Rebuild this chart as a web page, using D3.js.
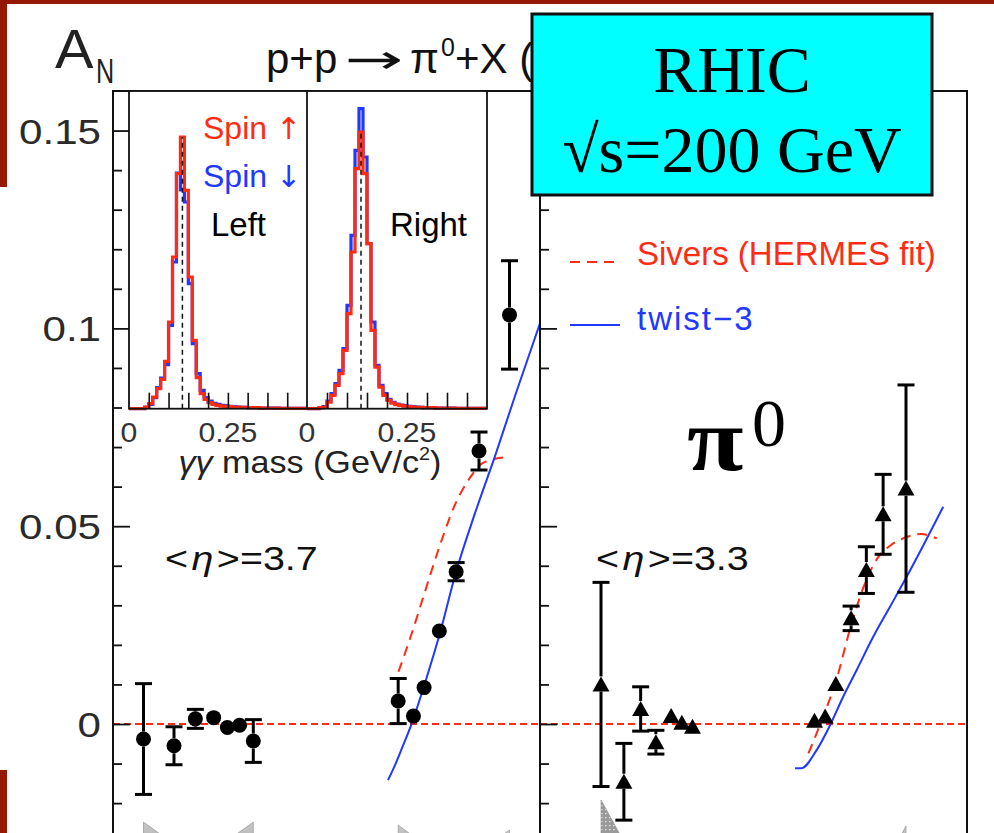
<!DOCTYPE html>
<html>
<head>
<meta charset="utf-8">
<title>Single-spin asymmetry A_N for p+p → π0 + X</title>
<script src="https://cdn.jsdelivr.net/npm/d3@7/dist/d3.min.js"></script>
<style>
  html, body { margin: 0; padding: 0; background: #fff; }
  svg { display: block; }
</style>
</head>
<body>
<svg id="chart" width="994" height="833"></svg>
<script>
// ---------------- data ----------------
// A_N axis
const yMajorTicks  = [0, 0.05, 0.1, 0.15];
const yMajorLabels = ["0", "0.05", "0.1", "0.15"];
const yMinorTicks  = [-0.03, -0.02, -0.01, 0.01, 0.02, 0.03, 0.04, 0.06, 0.07, 0.08, 0.09, 0.11, 0.12, 0.13, 0.14];

// <eta> = 3.7 : x_F, A_N and statistical error
const eta37XF  = [-0.60, -0.50, -0.43, -0.37, -0.325, -0.285, -0.24, 0.235, 0.285, 0.32, 0.37, 0.425, 0.50, 0.60];
const eta37AN  = [-0.0038, -0.0055, 0.0013, 0.0016, -0.0009, -0.0003, -0.0043, 0.0058, 0.0020, 0.0092, 0.0235, 0.0385, 0.0690, 0.1034];
const eta37Err = [0.0140, 0.0048, 0.0024, 0.0012, 0.0010, 0.0010, 0.0054, 0.0057, 0.0010, 0.0010, 0.0012, 0.0023, 0.0048, 0.0137];

// <eta> = 3.3
const eta33XF  = [-0.50, -0.425, -0.37, -0.32, -0.27, -0.235, -0.20, 0.20, 0.235, 0.27, 0.32, 0.37, 0.425, 0.50];
const eta33AN  = [0.0100, -0.0146, 0.0038, -0.0046, 0.0020, 0.0003, -0.0007, 0.0008, 0.0019, 0.0101, 0.0267, 0.0389, 0.0530, 0.0595];
const eta33Err = [0.0258, 0.0097, 0.0056, 0.0030, 0.0010, 0.0010, 0.0010, 0.0010, 0.0010, 0.0010, 0.0031, 0.0059, 0.0101, 0.0262];

// model calculations
const sivers37XF = [0.236, 0.280, 0.323, 0.372, 0.421, 0.470, 0.513, 0.595];
const sivers37AN = [0.0132, 0.0230, 0.0335, 0.0452, 0.0554, 0.0622, 0.0660, 0.0675];
const twist37XF  = [0.2016, 0.2246, 0.2475, 0.2803, 0.3197, 0.3721, 0.4246, 0.4869, 0.5525, 0.6180, 0.70];
const twist37AN  = [-0.0142, -0.0104, -0.0061, 0.0003, 0.0096, 0.0230, 0.0384, 0.0533, 0.0677, 0.0829, 0.1013];
const sivers33XF = [0.180, 0.224, 0.273, 0.320, 0.373, 0.410, 0.450, 0.500, 0.550, 0.601];
const sivers33AN = [-0.0074, 0.0010, 0.0115, 0.0250, 0.0370, 0.0423, 0.0452, 0.0472, 0.0480, 0.0469];
const twist33XF  = [0.136, 0.156, 0.207, 0.251, 0.294, 0.338, 0.393, 0.448, 0.502, 0.557, 0.622];
const twist33AN  = [-0.0112, -0.0112, -0.0066, -0.0003, 0.0069, 0.0136, 0.0221, 0.0297, 0.0372, 0.0452, 0.0549];

// shaded bands rising from below the shown A_N range
const bandPanel = [0, 0, 0, 0, 1, 1];
const bandXF    = [-0.60, -0.24, 0.235, 0.60, -0.50, 0.50];
const bandTip   = [-0.0248, -0.0248, -0.0256, -0.0268, -0.0192, -0.0258];
const bandSide  = [1, -1, 1, -1, 1, -1];

// two-photon invariant mass spectra (10 MeV bins from 0 to 0.45 GeV/c^2)
const massTicks      = [0.05, 0.1, 0.15, 0.2, 0.25, 0.3, 0.35, 0.4];
const massTickLabels = [[0, "0"], [0.25, "0.25"]];
const histLeftUp    = [0,0,0,0,0.5,1.5,3.5,6,8.8,14.2,26,45.5,70.5,81.5,65.5,39.5,20.5,9.3,4.5,2.8,1.8,1.3,1.0,0.8,0.7,0.6,0.5,0.5,0.4,0.4,0.3,0.3,0.3,0.2,0.2,0.2,0.2,0.2,0.1,0.1,0.1,0.1,0.1,0.1,0.1];
const histLeftDown  = [0,0,0,0,0.4,1.3,3.3,6.3,9.2,13.2,25,44,70.7,65.6,62,37.5,19.5,10.5,5.5,3.3,2.3,1.6,1.3,1.0,0.9,0.7,0.6,0.5,0.4,0.4,0.3,0.3,0.3,0.2,0.2,0.2,0.2,0.2,0.1,0.1,0.1,0.1,0.1,0.1,0.1];
const histRightUp   = [0,0,0,0.3,0.5,2.0,4.0,7.0,10.5,17.5,28.5,47,72,83,70.5,49.5,23.5,12.5,6.5,4.0,2.5,1.7,1.2,1.0,0.8,0.6,0.5,0.4,0.4,0.3,0.3,0.3,0.2,0.2,0.2,0.2,0.2,0.1,0.1,0.1,0.1,0.1,0.1,0.1,0.1];
const histRightDown = [0,0,0,0.3,0.6,2.3,4.5,7.5,11.5,18,31,52,77.5,90,75.5,49.5,26,13,7,4.5,2.8,1.9,1.4,1.1,0.9,0.7,0.6,0.5,0.4,0.3,0.3,0.3,0.2,0.2,0.2,0.2,0.2,0.1,0.1,0.1,0.1,0.1,0.1,0.1,0.1];
const pi0Mass = 0.135;

// ---------------- drawing ----------------
const svg = d3.select("#chart");
const RED = "#ff2b12", BLUE = "#2038ff", INK = "#111";
const SANS = '"Liberation Sans", Arial, Helvetica, sans-serif';
const SERIF = '"Liberation Serif", "Times New Roman", serif';
const DEJAVU = '"DejaVu Sans", sans-serif';
const defs = svg.append("defs");

// text helper: font set through style so it always wins
function txt(parent, x, yy, size, fill, family) {
  return parent.append("text").attr("x", x).attr("y", yy)
    .style("font-family", family || SANS).style("font-size", size + "px").attr("fill", fill);
}

// slide border
const BORDER = "#951900";
svg.append("rect").attr("x", 0).attr("y", 0).attr("width", 994).attr("height", 4).attr("fill", BORDER);
svg.append("rect").attr("x", 0).attr("y", 0).attr("width", 7).attr("height", 187).attr("fill", BORDER);
svg.append("rect").attr("x", 0).attr("y", 770).attr("width", 7).attr("height", 63).attr("fill", BORDER);

const plotTop = 91, plotBottom = 882.25;
const y = d3.scaleLinear().domain([-0.04, 0.16]).range([plotBottom, plotTop]);

const panels = [
  { x0: 113, x1: 540, xF: eta37XF, AN: eta37AN, err: eta37Err, marker: "circle",
    sx: sivers37XF, sy: sivers37AN, tx: twist37XF, ty: twist37AN, eta: "3.7", etaX: 165, bandSlope: 1.4 },
  { x0: 540, x1: 967, xF: eta33XF, AN: eta33AN, err: eta33Err, marker: "triangle",
    sx: sivers33XF, sy: sivers33AN, tx: twist33XF, ty: twist33AN, eta: "3.3", etaX: 596, bandSlope: 0.55 }
];

// dotted fill for the band in the second panel
const pat = defs.append("pattern").attr("id", "dots").attr("width", 4).attr("height", 4)
  .attr("patternUnits", "userSpaceOnUse");
pat.append("rect").attr("width", 4).attr("height", 4).attr("fill", "#9a9a9a");
pat.append("rect").attr("x", 1).attr("y", 1).attr("width", 1.5).attr("height", 1.2).attr("fill", "#e8e8e8");

const grad = defs.append("linearGradient").attr("id", "bandGrad").attr("x1", 0).attr("y1", 0).attr("x2", 0).attr("y2", 1);
grad.append("stop").attr("offset", "0%").attr("stop-color", "#c8c8c8");
grad.append("stop").attr("offset", "100%").attr("stop-color", "#8f8f8f");

panels.forEach((p, pi) => {
  const x = d3.scaleLinear().domain([-0.7, 0.7]).range([p.x0, p.x1]);
  p.x = x;

  defs.append("clipPath").attr("id", "clip" + pi)
    .append("rect").attr("x", p.x0).attr("y", plotTop).attr("width", p.x1 - p.x0).attr("height", plotBottom - plotTop);

  const g = svg.append("g").attr("clip-path", `url(#clip${pi})`);

  // bands
  bandXF.forEach((bx, i) => {
    if (bandPanel[i] !== pi) return;
    const px = x(bx), ty = y(bandTip[i]);
    const w = (plotBottom - ty) * p.bandSlope * bandSide[i];
    g.append("path")
      .attr("d", `M${px},${ty} L${px},${plotBottom} L${px + w},${plotBottom} Z`)
      .attr("fill", pi === 1 && bandSide[i] === 1 ? "url(#dots)" : "url(#bandGrad)")
      .attr("stroke", "#8a8a8a").attr("stroke-width", 0.6);
  });

  // zero line
  g.append("line").attr("x1", p.x0).attr("x2", p.x1).attr("y1", y(0)).attr("y2", y(0))
    .attr("stroke", RED).attr("stroke-width", 1.8).attr("stroke-dasharray", "7,4");

  const line = d3.line().x(d => x(d[0])).y(d => y(d[1])).curve(d3.curveMonotoneX);
  g.append("path").attr("d", line(p.sx.map((v, i) => [v, p.sy[i]])))
    .attr("fill", "none").attr("stroke", RED).attr("stroke-width", 2).attr("stroke-dasharray", "10,7");
  g.append("path").attr("d", line(p.tx.map((v, i) => [v, p.ty[i]])))
    .attr("fill", "none").attr("stroke", BLUE).attr("stroke-width", 2);

  // data points with error bars
  const r = 7.5;
  const up = p.marker === "circle" ? r : 8, dn = p.marker === "circle" ? r : 7;
  p.xF.forEach((xf, i) => {
    const cx = x(xf), cy = y(p.AN[i]);
    const top = y(p.AN[i] + p.err[i]), bot = y(p.AN[i] - p.err[i]);
    const bar = g.append("g").attr("stroke", "#000").attr("stroke-width", 3);
    if (cy - top > up) {
      bar.append("line").attr("x1", cx).attr("x2", cx).attr("y1", cy - up).attr("y2", top);
      bar.append("line").attr("x1", cx - 8.5).attr("x2", cx + 8.5).attr("y1", top).attr("y2", top);
    }
    if (bot - cy > dn) {
      bar.append("line").attr("x1", cx).attr("x2", cx).attr("y1", cy + dn).attr("y2", bot);
      bar.append("line").attr("x1", cx - 8.5).attr("x2", cx + 8.5).attr("y1", bot).attr("y2", bot);
    }
    if (p.marker === "circle") {
      g.append("circle").attr("cx", cx).attr("cy", cy).attr("r", r).attr("fill", "#000");
    } else {
      g.append("path").attr("transform", `translate(${cx},${cy})`)
        .attr("d", "M0,-8 L8.5,7 L-8.5,7 Z").attr("fill", "#000");
    }
  });

  // frame
  svg.append("rect").attr("x", p.x0).attr("y", plotTop).attr("width", p.x1 - p.x0).attr("height", plotBottom - plotTop)
    .attr("fill", "none").attr("stroke", INK).attr("stroke-width", 2);

  // y ticks pointing into the panel
  const minor = svg.append("g").attr("transform", `translate(${p.x0},0)`)
    .call(d3.axisRight(y).tickValues(yMinorTicks).tickSize(9).tickFormat(""));
  const major = svg.append("g").attr("transform", `translate(${p.x0},0)`)
    .call(d3.axisRight(y).tickValues(yMajorTicks).tickSize(17).tickFormat(""));
  [minor, major].forEach(a => {
    a.select(".domain").remove();
    a.selectAll("line").attr("stroke", INK).attr("stroke-width", 1.8);
  });

  // <eta> label
  const et = svg.append("text").attr("transform", `translate(${p.etaX},570) scale(1.16,1)`)
    .style("font-family", SANS).style("font-size", "34px").attr("fill", "#111");
  et.append("tspan").text("<");
  et.append("tspan").style("font-style", "italic").attr("dx", 3).text("η");
  et.append("tspan").attr("dx", 3).text(">=" + p.eta);
});

// y-axis labels, slightly widened glyphs
const yl = svg.append("g").attr("transform", `translate(${panels[0].x0},0)`)
  .call(d3.axisLeft(y).tickValues(yMajorTicks).tickSize(0).tickPadding(12)
    .tickFormat(d => yMajorLabels[yMajorTicks.indexOf(d)]));
yl.select(".domain").remove();
yl.selectAll(".tick").each(function () {
  d3.select(this).select("text")
    .attr("x", null).attr("dy", null).attr("y", 12.5)
    .attr("transform", "translate(-12,0) scale(1.17,1)")
    .style("font-family", SANS).style("font-size", "36px").attr("fill", "#2a2a2a");
});

// A_N
svg.append("text").attr("transform", "translate(55,68) scale(1.05,1)")
  .style("font-family", SANS).style("font-size", "55px").attr("fill", "#222").text("A");
svg.append("text").attr("transform", "translate(96,83) scale(0.7,1)")
  .style("font-family", SANS).style("font-size", "36px").attr("fill", "#222").text("N");

// title, running on behind the label box
txt(svg, 266, 73, 42, "#111").text("p+p");
svg.append("text").attr("transform", "translate(345,73) scale(1.75,1)")
  .style("font-family", DEJAVU).style("font-size", "40px").attr("fill", "#111").text("→");
txt(svg, 410, 73, 42, "#111").text("π");
txt(svg, 441, 56, 25, "#111").text("0");
txt(svg, 455, 73, 42, "#111").text("+X (");

// ---------------- inset: gamma-gamma mass ----------------
const insetTop = plotTop, insetBase = 408.7;
const hy = d3.scaleLinear().domain([0, 95.3]).range([insetBase, insetTop]);
const binW = 0.01;
const subs = [
  { x: d3.scaleLinear().domain([0, 0.45]).range([129, 307]), up: histLeftUp, down: histLeftDown },
  { x: d3.scaleLinear().domain([0, 0.45]).range([307, 487]), up: histRightUp, down: histRightDown }
];
svg.append("rect").attr("x", 129).attr("y", insetTop).attr("width", 358).attr("height", insetBase - insetTop)
  .attr("fill", "#fff");

subs.forEach((s, si) => {
  const [a, b] = s.x.range();
  defs.append("clipPath").attr("id", "hclip" + si)
    .append("rect").attr("x", a).attr("y", insetTop).attr("width", b - a).attr("height", insetBase - insetTop + 2);
  const g = svg.append("g").attr("clip-path", `url(#hclip${si})`);
  const step = d3.line().x(d => s.x(d[0])).y(d => hy(d[1])).curve(d3.curveStepAfter);
  const pts = vals => { const q = vals.map((v, i) => [i * binW, v]); q.push([vals.length * binW, vals[vals.length - 1]]); return q; };
  g.append("path").attr("d", step(pts(s.down))).attr("fill", "none").attr("stroke", BLUE).attr("stroke-width", 3.2);
  g.append("path").attr("d", step(pts(s.up))).attr("fill", "none").attr("stroke", RED).attr("stroke-width", 3.2);
  g.append("line").attr("x1", s.x(pi0Mass)).attr("x2", s.x(pi0Mass)).attr("y1", insetBase).attr("y2", hy(d3.max(s.up)))
    .attr("stroke", "#111").attr("stroke-width", 1.5).attr("stroke-dasharray", "5,4");

  const ax = svg.append("g").attr("transform", `translate(0,${insetBase})`)
    .call(d3.axisTop(s.x).tickValues(massTicks).tickSize(16).tickFormat(""));
  ax.select(".domain").remove();
  ax.selectAll("line").attr("stroke", INK).attr("stroke-width", 1.6);

  massTickLabels.forEach(([v, t]) => {
    svg.append("text").attr("transform", `translate(${s.x(v)},442) scale(1.12,1)`).attr("text-anchor", "middle")
      .style("font-family", SANS).style("font-size", "27px").attr("fill", "#333").text(t);
  });
});

// inset frame
svg.append("rect").attr("x", 129).attr("y", insetTop).attr("width", 358).attr("height", insetBase - insetTop)
  .attr("fill", "none").attr("stroke", INK).attr("stroke-width", 1.8);
svg.append("line").attr("x1", 307).attr("x2", 307).attr("y1", insetTop).attr("y2", insetBase)
  .attr("stroke", INK).attr("stroke-width", 1.8);

const mt = svg.append("text").attr("transform", "translate(310,473) scale(1.1,1)").attr("text-anchor", "middle")
  .style("font-family", SANS).style("font-size", "31px").attr("fill", "#222");
mt.append("tspan").style("font-style", "italic").text("γγ");
mt.append("tspan").text(" mass (GeV/c");
mt.append("tspan").style("font-size", "18px").attr("dy", -13).text("2");
mt.append("tspan").attr("dy", 13).text(")");

const su = txt(svg, 203, 139, 32, RED); su.append("tspan").text("Spin ");
su.append("tspan").style("font-family", DEJAVU).style("font-size", "30px").text("↑");
const sd = txt(svg, 203, 187, 32, BLUE); sd.append("tspan").text("Spin ");
sd.append("tspan").style("font-family", DEJAVU).style("font-size", "30px").text("↓");
txt(svg, 211, 236, 33, "#000").text("Left");
txt(svg, 390, 236, 33, "#000").text("Right");

// ---------------- legend ----------------
svg.append("line").attr("x1", 570).attr("x2", 620).attr("y1", 262).attr("y2", 262)
  .attr("stroke", RED).attr("stroke-width", 2).attr("stroke-dasharray", "10,7");
txt(svg, 637, 265, 33, RED).text("Sivers (HERMES fit)");
svg.append("line").attr("x1", 570).attr("x2", 620).attr("y1", 325).attr("y2", 325)
  .attr("stroke", BLUE).attr("stroke-width", 2);
txt(svg, 637, 330, 33, BLUE).style("letter-spacing", "2px").text("twist−3");

// pi0 label
svg.append("text").attr("transform", "translate(687,470) scale(1.12,1)")
  .style("font-family", SERIF).style("font-weight", "bold").style("font-size", "92px").attr("fill", "#000").text("π");
txt(svg, 752, 446, 68, "#000", SERIF).text("0");

// energy box
svg.append("rect").attr("x", 532).attr("y", 14).attr("width", 400).attr("height", 181)
  .attr("fill", "#00ffff").attr("stroke", "#111").attr("stroke-width", 3);
txt(svg, 732, 92, 66, "#000", SERIF).attr("text-anchor", "middle").text("RHIC");
txt(svg, 732, 172, 66, "#000", SERIF).attr("text-anchor", "middle").text("√s=200 GeV");
</script>
</body>
</html>
